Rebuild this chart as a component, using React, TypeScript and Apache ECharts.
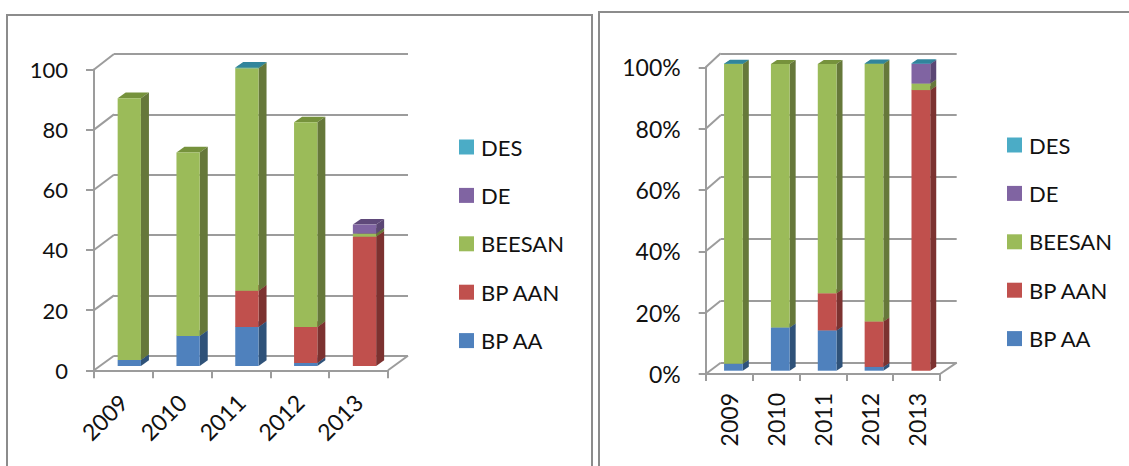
import React, { useEffect, useRef } from "react";
import * as echarts from "echarts";

const years = ["2009", "2010", "2011", "2012", "2013"];
const bpAa = [2, 10, 13, 1, 0];
const bpAan = [0, 0, 12, 12, 43];
const beesan = [87, 61, 74, 68, 1];
const de = [0, 0, 0, 0, 3];
const desCount = [0, 0, 0.2, 0, 0];
const desShareRaw = [0.1, 0, 0, 0.1, 0.1];
const countTicks = [0, 20, 40, 60, 80, 100];
const seriesNames = ["BP AA", "BP AAN", "BEESAN", "DE", "DES"];
const legendOrder = ["DES", "DE", "BEESAN", "BP AAN", "BP AA"];

const fronts = ["#4F81BD", "#C0504D", "#9BBB59", "#8064A2", "#4BACC6"];
const sides = ["#2F5279", "#7C3230", "#66783A", "#5B4674", "#31859C"];
const tops = ["#3F6797", "#9A403E", "#76923C", "#5F497A", "#31859C"];
const gridColor = "#9C9C9C";
const textColor = "#111111";
const fontFamily = "Lato";

const countStacks = [bpAa, bpAan, beesan, de, desCount];
const shareStacks = [bpAa, bpAan, beesan, de, desShareRaw].map((s) =>
  s.map((v, i) => {
    const total = bpAa[i] + bpAan[i] + beesan[i] + de[i];
    return (v / total) * 100;
  }),
);

type Panel = {
  front: { left: number; right: number; top: number; bottom: number };
  back: { left: number; right: number; top: number; bottom: number };
  barOffset: [number, number];
  depth: [number, number];
  barRatio: number;
  tick: number;
};

const W = 1129;
const H = 466;
const leftPanel: Panel = {
  front: { left: 94, right: 388, top: 69.5, bottom: 370.3 },
  back: { left: 114, right: 408, top: 54, bottom: 355.7 },
  barOffset: [5.9, -4.3],
  depth: [8, -5.7],
  barRatio: 0.396,
  tick: 8,
};
const rightPanel: Panel = {
  front: { left: 705.7, right: 940, top: 67.3, bottom: 374 },
  back: { left: 720.7, right: 956.7, top: 53.3, bottom: 362.7 },
  barOffset: [4.3, -3.3],
  depth: [6, -4],
  barRatio: 0.4,
  tick: 7,
};

function stackSeries(panel: Panel, stacks: number[][], gridIdx: number) {
  return stacks.map((values, s) => {
    const data = values.map((v, i) => {
      let base = 0;
      for (let k = 0; k < s; k++) base += stacks[k][i];
      return [i, base, base + v];
    });
    return {
      type: "custom",
      name: seriesNames[s],
      xAxisIndex: gridIdx,
      yAxisIndex: gridIdx,
      coordinateSystem: "cartesian2d",
      clip: false,
      silent: true,
      z: 5,
      itemStyle: { color: fronts[s] },
      encode: { x: 0, y: [1, 2] },
      data,
      renderItem: (_p: any, api: any) => {
        const start = api.value(1);
        const end = api.value(2);
        if (end - start <= 0) return { type: "group", children: [] };
        const a = api.coord([api.value(0), start]);
        const b = api.coord([api.value(0), end]);
        const w = api.size([1, 0])[0] * panel.barRatio;
        const x0 = a[0] - w / 2 + panel.barOffset[0];
        const x1 = x0 + w;
        const y0 = a[1] + panel.barOffset[1];
        const y1 = b[1] + panel.barOffset[1];
        const [dx, dy] = panel.depth;
        return {
          type: "group",
          children: [
            { type: "polygon", shape: { points: [[x0, y1], [x1, y1], [x1 + dx, y1 + dy], [x0 + dx, y1 + dy]] }, style: { fill: tops[s] } },
            { type: "polygon", shape: { points: [[x1, y0], [x1 + dx, y0 + dy], [x1 + dx, y1 + dy], [x1, y1]] }, style: { fill: sides[s] } },
            { type: "rect", shape: { x: x0, y: y1, width: w, height: y0 - y1 }, style: { fill: fronts[s] } },
          ],
        };
      },
    };
  });
}

function wallSeries(panel: Panel, gridIdx: number, ticks: number[]) {
  const dx = panel.back.left - panel.front.left;
  const dy = panel.back.top - panel.front.top;
  const dyBottom = panel.back.bottom - panel.front.bottom;
  return {
    type: "custom",
    xAxisIndex: gridIdx,
    yAxisIndex: gridIdx,
    clip: false,
    silent: true,
    z: 1,
    encode: { y: 1 },
    data: ticks.map((t) => [0, t]),
    renderItem: (_p: any, api: any) => {
      const t = api.value(1);
      const yFront = api.coord([0, t])[1];
      const frac = t / ticks[ticks.length - 1];
      const shift = dyBottom + (dy - dyBottom) * frac;
      const lineStyle = { stroke: gridColor, lineWidth: 2 };
      const children: any[] = [
        { type: "line", shape: { x1: panel.front.left, y1: yFront, x2: panel.front.left + dx, y2: yFront + shift }, style: lineStyle },
      ];
      if (t === 0) {
        children.push({
          type: "line",
          shape: { x1: panel.front.right, y1: yFront, x2: panel.back.right, y2: yFront + shift },
          style: lineStyle,
        });
      }
      return { type: "group", children };
    },
  };
}

function gridRect(b: Panel["front"]) {
  return { left: b.left, top: b.top, width: b.right - b.left, height: b.bottom - b.top, containLabel: false };
}

const axisLine = { lineStyle: { color: gridColor, width: 2 } };

function frontX(panel: Panel, gridIndex: number, rotate: number, margin: number) {
  return {
    type: "category",
    gridIndex,
    data: years,
    boundaryGap: true,
    axisLine: { show: true, ...axisLine },
    axisTick: { show: true, alignWithLabel: false, length: panel.tick, lineStyle: { color: gridColor, width: 2 } },
    axisLabel: { rotate, margin, interval: 0, color: textColor, fontFamily, fontSize: 23 },
    splitLine: { show: false },
  };
}

function frontY(panel: Panel, gridIndex: number, margin: number, formatter: string, fontSize: number) {
  return {
    type: "value",
    gridIndex,
    min: 0,
    max: 100,
    interval: 20,
    axisLine: { show: true, ...axisLine },
    axisTick: { show: true, length: panel.tick, lineStyle: { color: gridColor, width: 2 } },
    axisLabel: { margin, color: textColor, fontFamily, fontSize, formatter },
    splitLine: { show: false },
  };
}

function backX(gridIndex: number) {
  return { type: "category", gridIndex, data: years, show: false };
}

function backY(gridIndex: number) {
  return {
    type: "value",
    gridIndex,
    min: 0,
    max: 100,
    interval: 20,
    axisLine: { show: false },
    axisTick: { show: false },
    axisLabel: { show: false },
    splitLine: { show: true, showMinLine: true, showMaxLine: true, lineStyle: { color: gridColor, width: 2 } },
  };
}

function legend(left: number, top: number) {
  return {
    orient: "vertical",
    left,
    top,
    padding: 0,
    data: legendOrder,
    icon: "rect",
    itemWidth: 15,
    itemHeight: 15,
    itemGap: 26.4,
    selectedMode: false,
    textStyle: { color: textColor, fontFamily, fontSize: 22, padding: [0, 0, 0, 2] },
  };
}

const panelBorders = [
  { points: [[7, H + 5], [7, 15], [592, 15], [592, H + 5]] },
  { points: [[599, H + 5], [599, 12], [W + 5, 12]] },
];

export default function App() {
  const ref = useRef<HTMLDivElement>(null);
  useEffect(() => {
    const chart = echarts.init(ref.current!, undefined, { renderer: "svg" });
    chart.setOption({
      animation: false,
      backgroundColor: "#ffffff",
      grid: [
        gridRect(leftPanel.back),
        gridRect(leftPanel.front),
        gridRect(rightPanel.back),
        gridRect(rightPanel.front),
      ],
      xAxis: [backX(0), frontX(leftPanel, 1, 45, 28), backX(2), frontX(rightPanel, 3, 90, 19)],
      yAxis: [
        backY(0),
        frontY(leftPanel, 1, 26, "{value}", 22),
        backY(2),
        frontY(rightPanel, 3, 25, "{value}%", 23),
      ],
      legend: [legend(459, 136), legend(1007, 134)],
      series: [
        wallSeries(leftPanel, 1, countTicks),
        wallSeries(rightPanel, 3, countTicks),
        ...stackSeries(leftPanel, countStacks, 1),
        ...stackSeries(rightPanel, shareStacks, 3),
      ],
      graphic: panelBorders.map((b) => ({
        type: "polyline",
        silent: true,
        z: 0,
        shape: { points: b.points },
        style: { fill: "none", stroke: "#8C8C8C", lineWidth: 2 },
      })),
    });
    return () => chart.dispose();
  }, []);
  return <div ref={ref} style={{ position: "absolute", left: 0, top: 0, width: W, height: H }} />;
}
